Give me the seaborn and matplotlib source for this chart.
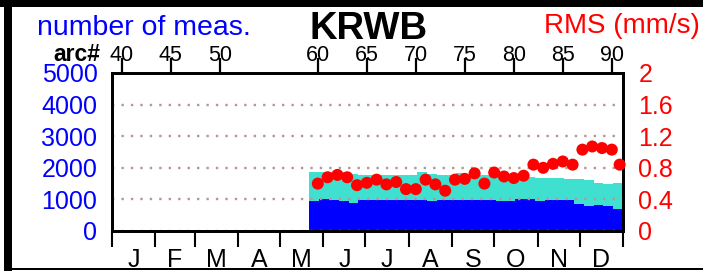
import numpy as np
import matplotlib
matplotlib.use("Agg")
import matplotlib.pyplot as plt
from matplotlib.patches import Rectangle
from matplotlib.collections import LineCollection
from matplotlib.transforms import blended_transform_factory
import seaborn as sns

# weekly arcs (arc n ends on day (n-39)*7 + 1 of the year)
arcs = list(range(60, 92))
total_meas = [1856, 1856, 1856, 1856, 1800, 1770, 1770, 1770, 1770, 1770,
              1770, 1856, 1800, 1770, 1770, 1825, 1770, 1770, 1780, 1740,
              1740, 1740, 1720, 1687, 1687, 1687, 1650, 1635, 1600, 1509,
              1500, 1530]
blue_meas = [940, 1000, 990, 950, 900, 980, 980, 980, 980, 980,
             980, 980, 950, 980, 980, 980, 980, 980, 980, 960,
             950, 1000, 1000, 960, 970, 970, 970, 850, 790, 823,
             780, 696]
rms_arcs = list(range(60, 91)) + [90.8]
rms = [0.60, 0.68, 0.71, 0.68, 0.58, 0.61, 0.65, 0.59, 0.62, 0.53,
       0.53, 0.65, 0.59, 0.51, 0.65, 0.66, 0.73, 0.60, 0.74, 0.69,
       0.67, 0.70, 0.84, 0.80, 0.85, 0.88, 0.84, 1.03, 1.07, 1.05,
       1.03, 0.84]

arc_ticks = [40, 45, 50, 60, 65, 70, 75, 80, 85, 90]
month_labels = ["J", "F", "M", "A", "M", "J", "J", "A", "S", "O", "N", "D"]
month_days = [31, 28, 31, 30, 31, 30, 31, 31, 30, 31, 30, 31]
left_ticks = [0, 1000, 2000, 3000, 4000, 5000]
right_ticks = [0, 0.4, 0.8, 1.2, 1.6, 2]
right_ticklabels = ["0", "0.4", "0.8", "1.2", "1.6", "2"]

sns.set_theme(style="white")
plt.rcParams["font.family"] = ["Liberation Sans", "DejaVu Sans"]

BLUE = "#0000ff"
CYAN = "#40e0d0"
RED = "#ff0000"


def arc_to_day(a):
    return (np.asarray(a, dtype=float) - 39) * 7


fig = plt.figure(figsize=(7.03, 2.71), dpi=100)
ax = fig.add_axes([112 / 703, 40 / 271, 511 / 703, 158 / 271])

bar_start = arc_to_day(arcs) - 6
ax.bar(bar_start, total_meas, width=7, align="edge", color=CYAN, linewidth=0)
ax.bar(bar_start, blue_meas, width=7, align="edge", color=BLUE, linewidth=0)

ax.set_xlim(0, 365)
ax.set_ylim(0, 5000)
ax.set_axisbelow(False)
ax.yaxis.grid(True, color="#b49696", linestyle=(0, (1, 3)), linewidth=1.7)
ax.xaxis.grid(False)

# month ticks along the bottom
bounds = np.concatenate([[0], np.cumsum(month_days)])
ax.set_xticks(bounds)
ax.set_xticklabels([])
ax.set_xticks((bounds[:-1] + bounds[1:]) / 2, minor=True)
ax.set_xticklabels(month_labels, minor=True)
ax.tick_params(axis="x", which="major", direction="out", length=11.5,
               width=1.5, color="black", bottom=True)
ax.tick_params(axis="x", which="minor", length=0, pad=12.5, labelsize=18,
               labelcolor="black", bottom=True)

ax.set_yticks(left_ticks)
ax.tick_params(axis="y", length=0, pad=10.5, labelsize=18, labelcolor=BLUE)
for s in ax.spines.values():
    s.set_color("black")
    s.set_linewidth(1.8)

# arc numbers along the top
top = ax.twiny()
top.set_xlim(39, 39 + 365 / 7)
top.set_xticks(arc_ticks)
top.tick_params(axis="x", which="major", top=True, labeltop=True, length=0,
                pad=5, labelsize=15.5, labelcolor="black")
top.grid(False)

# RMS on the right axis
ax2 = ax.twinx()
sns.scatterplot(x=arc_to_day(rms_arcs), y=rms, ax=ax2, color=RED, s=75,
                edgecolor="none", linewidth=0, zorder=5, clip_on=False)
ax2.set_ylim(0, 2)
ax2.set_xlim(0, 365)
ax2.set_yticks(right_ticks)
ax2.set_yticklabels(right_ticklabels)
ax2.tick_params(axis="y", length=0, pad=11, labelsize=18, labelcolor=RED)
ax2.grid(False)
for a in (ax2, top):
    for s in a.spines.values():
        s.set_color("black")
        s.set_linewidth(1.8)

# arc marks reach up from the top frame into the labels (figure-level artist)
mark_x = arc_to_day(arc_ticks)
marks = LineCollection([[(x, 1.0), (x, 1.095)] for x in mark_x],
                       colors="black", linewidths=1.6,
                       transform=blended_transform_factory(ax.transData,
                                                           ax.transAxes),
                       zorder=10)
fig.add_artist(marks)

fig.text(37 / 703, 1 - 35 / 271, "number of meas.", color=BLUE, fontsize=20.5,
         ha="left", va="baseline")
fig.text(369 / 703, 1 - 39 / 271, "KRWB", color="black", fontsize=27.5,
         fontweight="bold", ha="center", va="baseline")
fig.text(700 / 703, 1 - 33 / 271, "RMS (mm/s)", color=RED, fontsize=20,
         ha="right", va="baseline")
fig.text(100 / 703, 1 - 61 / 271, "arc#", color="black", fontsize=16.5,
         fontweight="bold", ha="right", va="baseline")

# black frame pieces
fig.add_artist(Rectangle((0, 1 - 7 / 271), 1, 7 / 271, transform=fig.transFigure,
                         color="black", lw=0))
fig.add_artist(Rectangle((4 / 703, 0), 8 / 703, 1, transform=fig.transFigure,
                         color="black", lw=0))
fig.add_artist(Rectangle((4 / 703, 1 / 271), 1, 2 / 271, transform=fig.transFigure,
                         color="black", lw=0))

fig.savefig("out.png", dpi=100)
